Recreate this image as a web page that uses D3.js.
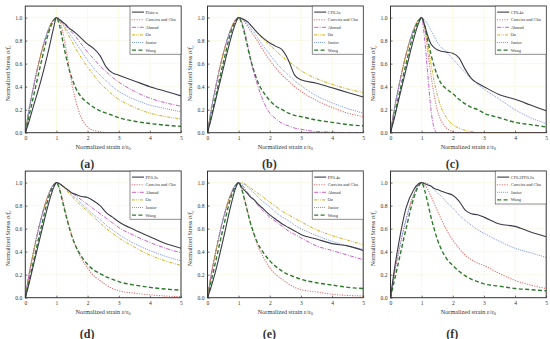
<!DOCTYPE html>
<html>
<head>
<meta charset="utf-8">
<script src="https://cdn.jsdelivr.net/npm/d3@7"></script>
<style>
body{margin:0;background:#fff;}
svg{display:block;}
text{font-family:"Liberation Serif","DejaVu Serif",serif;fill:#333;}
</style>
</head>
<body>
<div id="chart"></div>
<script>
// normalized strain grid shared by every curve
var strain=[0,0.1,0.25,0.5,0.75,0.9,1,1.1,1.2,1.3,1.4,1.5,1.6,1.8,2,2.2,2.4,2.6,2.8,3,3.5,4,4.5,5];

// (a) plain concrete
var plainA   =[0,0.08,0.22,0.45,0.72,0.9,1,0.98,0.96,0.94,0.91,0.89,0.87,0.82,0.77,0.73,0.67,0.57,0.52,0.5,0.45,0.4,0.36,0.32];
var carreiraA=[0,0.17,0.38,0.68,0.9,0.98,1,0.97,0.88,0.74,0.58,0.42,0.3,0.13,0.05,0.02,0.01,0,0,0,0,0,0,0];
var ahmadA   =[0,0.17,0.38,0.68,0.9,0.98,1,0.99,0.96,0.93,0.9,0.87,0.84,0.77,0.7,0.64,0.58,0.53,0.48,0.44,0.36,0.3,0.26,0.23];
var ouA      =[0,0.17,0.38,0.68,0.9,0.98,1,0.98,0.94,0.89,0.84,0.79,0.74,0.65,0.57,0.5,0.43,0.38,0.33,0.29,0.22,0.17,0.14,0.12];
var juniorA  =[0,0.17,0.38,0.68,0.9,0.98,1,0.99,0.95,0.91,0.87,0.83,0.79,0.71,0.63,0.56,0.5,0.45,0.4,0.36,0.29,0.24,0.21,0.18];
var wangA    =[0,0.12,0.3,0.6,0.87,0.97,1,0.93,0.8,0.67,0.56,0.47,0.4,0.31,0.26,0.22,0.19,0.17,0.15,0.13,0.1,0.08,0.065,0.055];

// (b) CF0.2a
var cf02a    =[0,0.1,0.27,0.55,0.82,0.95,1,0.99,0.98,0.96,0.93,0.9,0.87,0.82,0.78,0.75,0.72,0.63,0.5,0.46,0.43,0.39,0.35,0.31];
var carreiraB=[0,0.17,0.38,0.68,0.9,0.98,1,0.99,0.96,0.92,0.88,0.84,0.8,0.71,0.63,0.56,0.5,0.45,0.4,0.36,0.28,0.22,0.17,0.14];
var ahmadB   =[0,0.17,0.38,0.68,0.9,0.98,1,0.96,0.87,0.75,0.62,0.51,0.42,0.27,0.17,0.12,0.08,0.06,0.04,0.03,0.01,0.005,0,0];
var ouB      =[0,0.17,0.38,0.68,0.9,0.98,1,1,0.98,0.96,0.93,0.9,0.87,0.81,0.76,0.71,0.66,0.62,0.58,0.54,0.47,0.42,0.38,0.35];
var juniorB  =[0,0.17,0.38,0.68,0.9,0.98,1,0.99,0.97,0.94,0.9,0.87,0.83,0.75,0.68,0.61,0.55,0.5,0.45,0.41,0.32,0.26,0.21,0.17];
var wangB    =[0,0.12,0.3,0.6,0.87,0.97,1,0.95,0.85,0.73,0.62,0.53,0.45,0.35,0.28,0.23,0.2,0.17,0.15,0.14,0.11,0.09,0.07,0.06];

// (c) CF0.4a
var cf04a    =[0,0.1,0.27,0.55,0.82,0.95,1,0.93,0.84,0.77,0.74,0.72,0.71,0.7,0.69,0.65,0.55,0.47,0.43,0.4,0.33,0.29,0.24,0.19];
var carreiraC=[0,0.17,0.38,0.68,0.9,0.98,1,0.9,0.7,0.5,0.33,0.2,0.12,0.04,0.01,0,0,0,0,0,0,0,0,0];
var ahmadC   =[0,0.17,0.38,0.68,0.9,0.98,1,0.8,0.5,0.2,0.04,0,0,0,0,0,0,0,0,0,0,0,0,0];
var ouC      =[0,0.17,0.38,0.68,0.9,0.98,1,0.92,0.76,0.6,0.45,0.33,0.24,0.13,0.07,0.04,0.02,0.01,0,0,0,0,0,0];
var juniorC  =[0,0.17,0.38,0.68,0.9,0.98,1,0.98,0.94,0.89,0.84,0.79,0.75,0.7,0.64,0.58,0.52,0.47,0.42,0.38,0.29,0.2,0.13,0.08];
var wangC    =[0,0.12,0.3,0.6,0.87,0.97,1,0.93,0.8,0.68,0.58,0.5,0.44,0.38,0.34,0.29,0.25,0.22,0.2,0.17,0.13,0.09,0.07,0.05];

// (d) PF0.2a
var pf02a    =[0,0.1,0.27,0.55,0.82,0.95,1,0.99,0.97,0.95,0.93,0.91,0.9,0.88,0.87,0.84,0.8,0.74,0.7,0.66,0.59,0.53,0.47,0.43];
var carreiraD=[0,0.17,0.38,0.68,0.9,0.98,1,0.95,0.85,0.74,0.63,0.54,0.46,0.34,0.26,0.19,0.15,0.11,0.08,0.06,0.04,0.025,0.015,0.01];
var ahmadD   =[0,0.17,0.38,0.68,0.9,0.98,1,0.99,0.97,0.95,0.93,0.91,0.89,0.85,0.81,0.77,0.73,0.69,0.65,0.61,0.54,0.48,0.43,0.39];
var ouD      =[0,0.17,0.38,0.68,0.9,0.98,1,0.99,0.97,0.94,0.91,0.88,0.85,0.8,0.75,0.7,0.65,0.6,0.56,0.52,0.44,0.37,0.32,0.28];
var juniorD  =[0,0.17,0.38,0.68,0.9,0.98,1,0.99,0.97,0.95,0.92,0.89,0.87,0.82,0.77,0.72,0.68,0.63,0.59,0.55,0.47,0.41,0.36,0.32];
var wangD    =[0,0.12,0.3,0.6,0.87,0.97,1,0.94,0.83,0.72,0.62,0.53,0.46,0.36,0.29,0.24,0.21,0.18,0.16,0.14,0.11,0.09,0.075,0.065];

// (e) PF0.4a
var pf04a    =[0,0.08,0.22,0.5,0.8,0.95,1,0.96,0.93,0.9,0.87,0.85,0.82,0.77,0.72,0.68,0.64,0.61,0.58,0.55,0.51,0.47,0.45,0.41];
var carreiraE=[0,0.17,0.38,0.68,0.9,0.98,1,0.95,0.85,0.74,0.63,0.54,0.46,0.35,0.26,0.2,0.16,0.12,0.09,0.07,0.05,0.03,0.02,0.015];
var ahmadE   =[0,0.17,0.38,0.68,0.9,0.98,1,0.98,0.95,0.91,0.88,0.85,0.81,0.75,0.7,0.66,0.62,0.58,0.55,0.52,0.45,0.41,0.37,0.33];
var ouE      =[0,0.17,0.38,0.68,0.9,0.98,1,1,0.99,0.97,0.95,0.93,0.91,0.87,0.83,0.79,0.75,0.72,0.69,0.66,0.59,0.54,0.5,0.46];
var juniorE  =[0,0.17,0.38,0.68,0.9,0.98,1,0.99,0.98,0.96,0.93,0.91,0.88,0.83,0.79,0.74,0.7,0.67,0.63,0.6,0.54,0.49,0.45,0.42];
var wangE    =[0,0.12,0.3,0.6,0.87,0.97,1,0.94,0.84,0.73,0.63,0.55,0.48,0.39,0.32,0.27,0.23,0.2,0.18,0.16,0.13,0.11,0.09,0.08];

// (f) CF0.2PF0.2a
var cfpf     =[0,0.2,0.45,0.78,0.94,0.99,1,0.99,0.98,0.97,0.95,0.94,0.93,0.91,0.89,0.84,0.76,0.73,0.72,0.7,0.64,0.62,0.57,0.53];
var carreiraF=[0,0.17,0.38,0.68,0.9,0.98,1,0.98,0.94,0.88,0.82,0.76,0.7,0.59,0.5,0.43,0.37,0.33,0.3,0.28,0.21,0.15,0.11,0.08];
var juniorF  =[0,0.17,0.38,0.68,0.9,0.98,1,1,0.99,0.97,0.94,0.91,0.89,0.83,0.78,0.72,0.67,0.63,0.59,0.56,0.49,0.43,0.39,0.35];
var wangF    =[0,0.12,0.3,0.6,0.87,0.97,1,0.93,0.82,0.7,0.6,0.51,0.44,0.34,0.28,0.23,0.19,0.16,0.14,0.12,0.1,0.08,0.07,0.06];

var panelLabels=["(a)","(b)","(c)","(d)","(e)","(f)"];
var specimens=["Plain-a","CF0.2a","CF0.4a","PF0.2a","PF0.4a","CF0.2PF0.2a"];
var xTicks=[0,1,2,3,4,5];
var yTicks=[0,0.2,0.4,0.6,0.8,1.0];

var panels=[
	{exp:plainA, models:[["Carreira and Chu",carreiraA],["Ahmad",ahmadA],["Ou",ouA],["Junior",juniorA],["Wang",wangA]]},
	{exp:cf02a,  models:[["Carreira and Chu",carreiraB],["Ahmad",ahmadB],["Ou",ouB],["Junior",juniorB],["Wang",wangB]]},
	{exp:cf04a,  models:[["Carreira and Chu",carreiraC],["Ahmad",ahmadC],["Ou",ouC],["Junior",juniorC],["Wang",wangC]]},
	{exp:pf02a,  models:[["Carreira and Chu",carreiraD],["Ahmad",ahmadD],["Ou",ouD],["Junior",juniorD],["Wang",wangD]]},
	{exp:pf04a,  models:[["Carreira and Chu",carreiraE],["Ahmad",ahmadE],["Ou",ouE],["Junior",juniorE],["Wang",wangE]]},
	{exp:cfpf,   models:[["Carreira and Chu",carreiraF],["Junior",juniorF],["Wang",wangF]]}
];

var styles={
	exp:{color:"#3b3b4a",dash:null,w:1.1},
	"Carreira and Chu":{color:"#e06a6a",dash:"0.3,2.2",w:1.1,cap:"round"},
	"Ahmad":{color:"#c24fc6",dash:"4,1.4,1,1.4",w:0.9},
	"Ou":{color:"#c9a400",dash:"3,1.1,0.8,1.1,0.8,1.1",w:0.9},
	"Junior":{color:"#5a7fe3",dash:"0.9,1.1",w:0.9},
	"Wang":{color:"#2d7a2d",dash:"4,2.4",w:1.4}
};

var W=550,H=339;
var colX=[25.3,207.5,390.5], pw=155.7;
var rowBottom=[132.7,297.7], ph=126.6;
var labelY=[163.5,333];

var svg=d3.select("#chart").append("svg").attr("width",W).attr("height",H);

panels.forEach(function(p,i){
	var col=i%3,row=Math.floor(i/3);
	var x0=colX[col],y0=rowBottom[row]-ph;
	var x=d3.scaleLinear().domain([0,5]).range([0,pw]);
	var y=d3.scaleLinear().domain([0,1.1]).range([ph,0]);
	var g=svg.append("g").attr("transform","translate("+x0+","+y0+")");

	//grid
	g.append("g").selectAll("line").data(xTicks.slice(1,5)).enter().append("line")
		.attr("x1",function(d){return x(d);}).attr("x2",function(d){return x(d);})
		.attr("y1",0).attr("y2",ph)
		.attr("stroke","#efe9b8").attr("stroke-width",0.6).attr("stroke-dasharray","1,1");
	g.append("g").selectAll("line").data(yTicks.slice(1)).enter().append("line")
		.attr("y1",function(d){return y(d);}).attr("y2",function(d){return y(d);})
		.attr("x1",0).attr("x2",pw)
		.attr("stroke","#efe9b8").attr("stroke-width",0.6).attr("stroke-dasharray","1,1");

	var line=d3.line().x(function(d){return x(d[0]);}).y(function(d){return y(d[1]);}).curve(d3.curveMonotoneX);
	var series=p.models.map(function(m){return {name:m[0],vals:m[1],st:styles[m[0]]};});
	series.push({name:specimens[i],vals:p.exp,st:styles.exp});

	var clip="clip"+i;
	g.append("clipPath").attr("id",clip).append("rect").attr("width",pw).attr("height",ph);
	g.append("g").attr("clip-path","url(#"+clip+")").selectAll("path").data(series).enter().append("path")
		.attr("d",function(s){return line(strain.map(function(e,k){return [e,s.vals[k]];}));})
		.attr("fill","none")
		.attr("stroke",function(s){return s.st.color;})
		.attr("stroke-width",function(s){return s.st.w;})
		.attr("stroke-dasharray",function(s){return s.st.dash;})
		.attr("stroke-linecap",function(s){return s.st.cap||"butt";});

	//axes
	var xa=g.append("g").attr("transform","translate(0,"+ph+")")
		.call(d3.axisBottom(x).tickValues(xTicks).tickSize(-2).tickPadding(3).tickFormat(d3.format("d")));
	var ya=g.append("g")
		.call(d3.axisLeft(y).tickValues(yTicks).tickSize(-2).tickPadding(3).tickFormat(d3.format(".1f")));
	[xa,ya].forEach(function(a){
		a.select(".domain").remove();
		a.selectAll("line").attr("stroke","#333").attr("stroke-width",0.7);
		a.selectAll("text").attr("font-size",5.6).attr("font-family","Liberation Serif").attr("fill","#333");
	});
	g.append("rect").attr("width",pw).attr("height",ph).attr("fill","none").attr("stroke","#333").attr("stroke-width",1);

	//axis titles
	var xt=g.append("text").attr("x",pw/2).attr("y",ph+16).attr("text-anchor","middle").attr("font-size",6.2);
	xt.append("tspan").text("Normalized strain  ε/ε");
	xt.append("tspan").attr("font-size",4.2).attr("dy",1.5).text("0");
	var yt=g.append("text").attr("transform","translate(-15.5,"+(ph/2+4)+") rotate(-90)").attr("text-anchor","middle").attr("font-size",6.2);
	yt.append("tspan").text("Normalized Stress  σ/");
	yt.append("tspan").attr("font-style","italic").text("f");
	yt.append("tspan").attr("font-size",4.2).attr("dy",1.5).text("c");

	//legend
	var lw=51,lh=series.length*7.6+2.5;
	var lg=g.append("g").attr("transform","translate("+(pw-lw)+",0)");
	lg.append("rect").attr("width",lw).attr("height",lh).attr("fill","#fff").attr("stroke","#444").attr("stroke-width",0.6);
	var order=[series[series.length-1]].concat(series.slice(0,series.length-1));
	var it=lg.selectAll("g.it").data(order).enter().append("g").attr("class","it")
		.attr("transform",function(d,k){return "translate(0,"+(6+k*7.6)+")";});
	it.append("line").attr("x1",2).attr("x2",14).attr("y1",0).attr("y2",0)
		.attr("stroke",function(s){return s.st.color;})
		.attr("stroke-width",function(s){return s.st.w;})
		.attr("stroke-dasharray",function(s){return s.st.dash;})
		.attr("stroke-linecap",function(s){return s.st.cap||"butt";});
	it.append("text").attr("x",15.5).attr("y",1.5).attr("font-size",4.4).attr("fill","#555").text(function(s){return s.name;});

	//panel label
	svg.append("text").attr("x",x0+pw/2-16).attr("y",labelY[row]+4.5).attr("text-anchor","middle")
		.attr("font-size",12).attr("font-weight","bold").attr("font-family","Liberation Serif").attr("fill","#111")
		.text(panelLabels[i]);
});
</script>
</body>
</html>
